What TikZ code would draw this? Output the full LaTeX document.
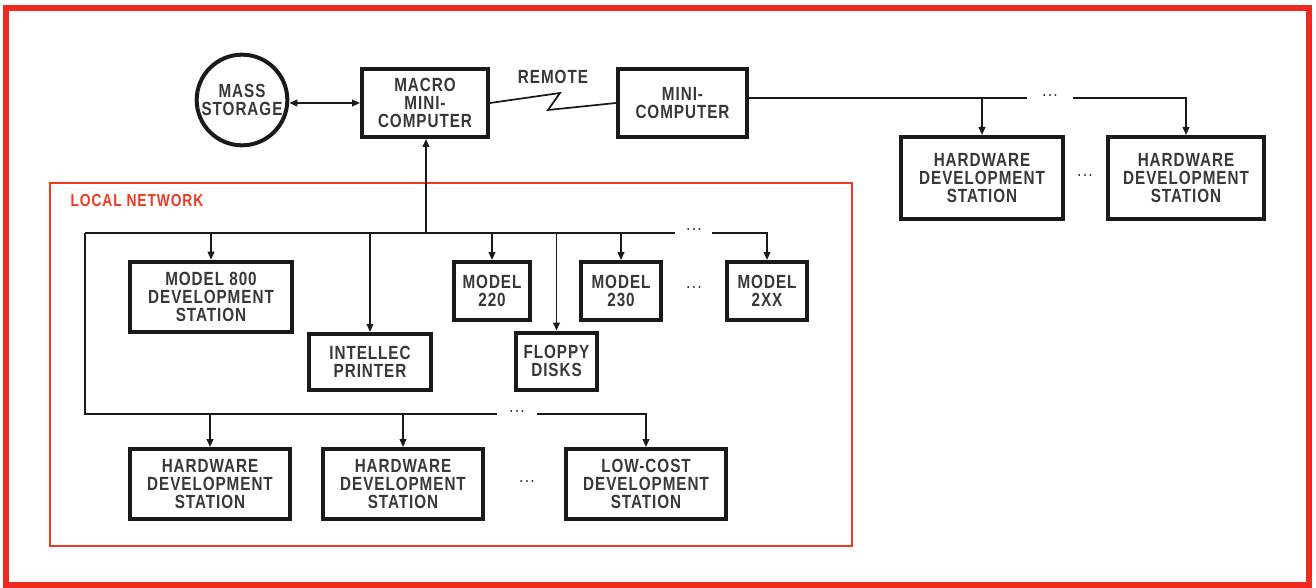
\documentclass[tikz,border=0pt]{standalone}
\usepackage{fontspec}
\setmainfont{Liberation Sans}[FakeStretch=0.8,LetterSpace=5]
\usetikzlibrary{arrows.meta}
\definecolor{frame}{HTML}{F02A1E}
\definecolor{frameb}{HTML}{EC3A24}
\definecolor{ink}{HTML}{1A1A1A}
\definecolor{txt}{HTML}{383838}
\tikzset{
  lbl/.style={font=\bfseries\fontsize{14.3}{13.5}\selectfont, text=txt},
  box/.style={draw=ink, line width=3pt, rectangle, inner sep=0pt, align=center, lbl},
  conn/.style={draw=ink, line width=1.3pt},
  arr/.style={conn, -{Triangle[length=6pt,width=5pt]}},
  dots/.style={font=\bfseries\fontsize{10}{12}\selectfont, text=txt, inner sep=1pt},
}
\newcommand\ddd{.\kern2pt.\kern2pt.}
\begin{document}
\begin{tikzpicture}[x=0.75pt,y=-0.75pt]
\useasboundingbox (0,0) rectangle (1316,588);
% frames
\draw[frame, line width=4.5pt] (6,8) rectangle (1309,585);
\draw[frameb, line width=2.2pt] (50,183) rectangle (852,546);
\node[font=\bfseries\fontsize{13}{13}\selectfont, text=frameb] (ln) at (137,201) {LOCAL NETWORK};
% top row
\node[draw=ink, line width=3pt, circle, minimum size=68pt, inner sep=0pt, align=center, lbl] (ms) at (242,100) {MASS\\STORAGE};
\node[box, minimum width=94.5pt, minimum height=51pt] (mac) at (425,103) {MACRO\\MINI-\\COMPUTER};
\node[box, minimum width=96.75pt, minimum height=51pt] (mini) at (682.5,103) {MINI-\\COMPUTER};
\node[lbl] (rem) at (553,77) {REMOTE};
\node[box, minimum width=121.5pt, minimum height=61.5pt] (hwa) at (982,178) {HARDWARE\\DEVELOPMENT\\STATION};
\node[box, minimum width=117pt, minimum height=61.5pt] (hwb) at (1186,178) {HARDWARE\\DEVELOPMENT\\STATION};
\node[dots] (d1) at (1050,96) {\ddd};
\node[dots] (d2) at (1085,176) {\ddd};
% local network
\node[box, minimum width=121.5pt, minimum height=53pt] (m800) at (211,297) {MODEL 800\\DEVELOPMENT\\STATION};
\node[box, minimum width=91.5pt, minimum height=42pt] (prn) at (370,362) {INTELLEC\\PRINTER};
\node[box, minimum width=57pt, minimum height=43.5pt] (m220) at (492,291) {MODEL\\220};
\node[box, minimum width=60.75pt, minimum height=42.75pt] (fd) at (556.5,361) {FLOPPY\\DISKS};
\node[box, minimum width=60pt, minimum height=43.5pt] (m230) at (621,291) {MODEL\\230};
\node[box, minimum width=60pt, minimum height=43.5pt] (m2xx) at (767,291) {MODEL\\2XX};
\node[dots] (d3) at (694,288) {\ddd};
\node[dots] (d4) at (694,230) {\ddd};
\node[box, minimum width=120pt, minimum height=52.5pt] (hw1) at (210,484) {HARDWARE\\DEVELOPMENT\\STATION};
\node[box, minimum width=120pt, minimum height=52.5pt] (hw2) at (403,484) {HARDWARE\\DEVELOPMENT\\STATION};
\node[box, minimum width=120pt, minimum height=52.5pt] (lc) at (646,484) {LOW-COST\\DEVELOPMENT\\STATION};
\node[dots] (d5) at (527,482) {\ddd};
\node[dots] (d6) at (517,412) {\ddd};
% coordinates
\coordinate (bus) at (426,233);
\coordinate (busL) at (85,233);
\coordinate (busE) at (675,233);
\coordinate (busR) at (712,233);
\coordinate (low) at (85,414);
\coordinate (lowE) at (497,414);
\coordinate (lowR) at (537,414);
\coordinate (top) at (1027,98);
\coordinate (topR) at (1073,98);
\coordinate (z1) at (560,93);
\coordinate (z2) at (548,110);
% connectors
\draw[conn, {Triangle[length=6pt,width=5pt]}-{Triangle[length=6pt,width=5pt]}] (ms.east |- mac.west) -- (mac.west);
\draw[conn] (mac.east) -- (z1) -- (z2) -- (mini.west);
\draw[arr] (bus) -- (mac.south -| bus);
\draw[conn] (busL) -- (busE);
\draw[arr] (busR) -| (m2xx.north);
\draw[arr] (m800.north |- bus) -- (m800.north);
\draw[arr] (prn.north |- bus) -- (prn.north);
\draw[arr] (m220.north |- bus) -- (m220.north);
\draw[arr] (fd.north |- bus) -- (fd.north);
\draw[arr] (m230.north |- bus) -- (m230.north);
\draw[conn] (busL) -- (low) -- (lowE);
\draw[arr] (lowR) -| (lc.north);
\draw[arr] (hw1.north |- low) -- (hw1.north);
\draw[arr] (hw2.north |- low) -- (hw2.north);
\draw[conn] (mini.east |- top) -- (top);
\draw[arr] (hwa.north |- top) -- (hwa.north);
\draw[arr] (topR) -| (hwb.north);
\end{tikzpicture}
\end{document}
